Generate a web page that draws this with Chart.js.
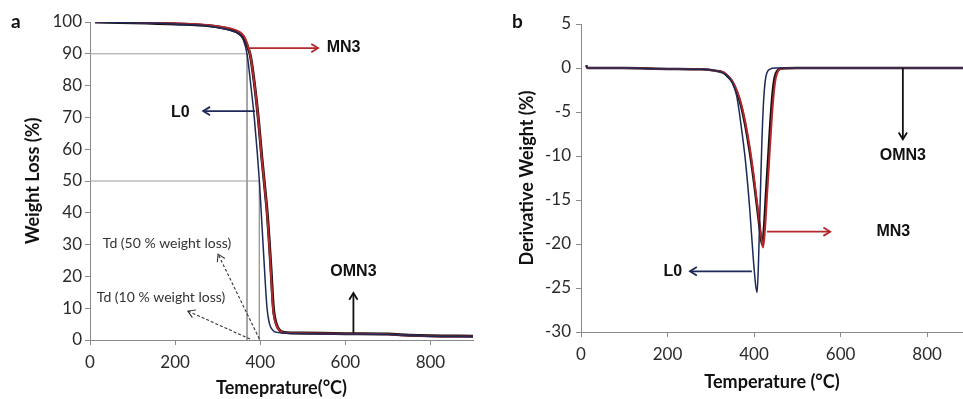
<!DOCTYPE html>
<html>
<head>
<meta charset="utf-8">
<script src="https://cdn.jsdelivr.net/npm/chart.js@4.4.1/dist/chart.umd.min.js"></script>
<style>
  html, body { margin: 0; padding: 0; background: #fff; }
  #wrap { position: relative; width: 963px; height: 399px; overflow: hidden; }
  #tgaBox { position: absolute; left: 0; top: 0; width: 480px; height: 399px; }
  #dtgBox { position: absolute; left: 480px; top: 0; width: 483px; height: 399px; }
  .panel { position: absolute; font: bold 19px Lato, sans-serif; color: #111; }
</style>
</head>
<body>
<div id="wrap">
  <div id="tgaBox"><canvas id="tgaChart"></canvas></div>
  <div id="dtgBox"><canvas id="dtgChart"></canvas></div>
  <div class="panel" style="left:11px;top:9px">a</div>
  <div class="panel" style="left:512px;top:9px">b</div>
</div>
<script>
// ---- panel a: TGA weight loss ----
const tgaTempL0 = [12, 100, 200, 280, 330, 350, 360, 369, 378, 386, 393, 398, 402, 408, 416, 422, 430, 440, 460, 500, 600, 700, 750, 800, 900];
const tgaL0     = [100, 99.8, 99.4, 98.7, 97.4, 96.2, 94.5, 90, 80, 70, 59, 50, 41, 27, 10, 5, 3, 2.4, 2.1, 2.0, 1.9, 1.8, 1.4, 1.2, 1.1];
const tgaTempMN3 = [12, 100, 200, 280, 330, 350, 362, 370, 376, 385, 395, 403, 409, 416, 424, 430, 437, 445, 455, 500, 600, 700, 750, 800, 900];
const tgaMN3     = [100, 99.9, 99.6, 99.0, 98.0, 97.0, 95.5, 93.0, 90.0, 82, 70, 58, 50, 40, 24, 10, 5, 3, 2.3, 2.1, 2.0, 1.8, 1.4, 1.2, 1.1];
const tgaTempOMN3 = [12, 100, 200, 280, 330, 350, 362, 370, 377, 386, 396, 404, 410, 417, 425, 431, 438, 446, 456, 500, 600, 700, 750, 800, 900];
const tgaOMN3     = [100, 99.8, 99.4, 98.8, 97.6, 96.5, 94.8, 92.3, 89.3, 81, 69, 57, 49, 39, 23, 10, 5, 3, 2.4, 2.2, 2.0, 1.9, 1.5, 1.3, 1.2];
const tdTemps  = [369, 398];   // Td at 10 % and 50 % weight loss
const tdLevels = [90, 50];
const tgaXTicks = [0, 200, 400, 600, 800];
const tgaYTicks = [0, 10, 20, 30, 40, 50, 60, 70, 80, 90, 100];

// ---- panel b: derivative weight ----
const dtgTempL0 = [12, 15, 100, 200, 280, 310, 330, 340, 350, 360, 370, 380, 390, 398, 404, 407, 410, 414, 418, 422, 426, 430, 436, 450, 500, 600, 700, 800, 883];
const dtgL0     = [0.3, 0, 0, -0.1, -0.15, -0.3, -0.6, -1.0, -1.7, -3.2, -6.5, -10.5, -16, -21.5, -24.8, -25.5, -22.5, -15.5, -8.5, -3.8, -1.4, -0.5, -0.15, 0, 0, 0, 0, 0, 0];
const dtgTempMN3 = [12, 15, 100, 200, 280, 310, 330, 340, 350, 360, 370, 380, 390, 400, 410, 417, 421, 425, 430, 435, 440, 445, 450, 456, 465, 500, 600, 700, 800, 883];
const dtgMN3     = [0.3, 0, 0, -0.1, -0.15, -0.3, -0.5, -0.9, -1.5, -2.5, -4.0, -6.2, -9.0, -12.5, -16.5, -19.3, -20.4, -18.5, -14.5, -10.5, -6.5, -3.2, -1.2, -0.3, -0.05, 0, 0, 0, 0, 0];
const dtgTempOMN3 = [12, 15, 100, 200, 280, 310, 330, 340, 350, 360, 370, 380, 390, 400, 410, 415, 419, 423, 428, 433, 438, 443, 448, 454, 463, 500, 600, 700, 800, 883];
const dtgOMN3     = [0.3, 0, 0, -0.1, -0.15, -0.3, -0.55, -1.0, -1.6, -2.7, -4.3, -6.6, -9.5, -13, -17, -19, -20.1, -18.2, -14, -10, -6, -2.8, -1.0, -0.3, -0.05, 0, 0, 0, 0, 0];
const dtgXTicks = [0, 200, 400, 600, 800];
const dtgYTicks = [-30, -25, -20, -15, -10, -5, 0, 5];

const NAVY = "#1d2a57";
const RED = "#b3282d";
const BLACK = "#111111";
const AXIS = "#8a8a8a";

function pts(xs, ys) {
  return xs.map((x, i) => ({ x, y: ys[i] }));
}

function drawArrow(ctx, x1, y1, x2, y2, color, width, dashed) {
  const ang = Math.atan2(y2 - y1, x2 - x1);
  const head = 8;
  ctx.save();
  ctx.strokeStyle = color;
  ctx.lineWidth = width;
  if (dashed) ctx.setLineDash([3, 2]);
  ctx.beginPath();
  ctx.moveTo(x1, y1);
  ctx.lineTo(x2, y2);
  ctx.stroke();
  ctx.setLineDash([]);
  ctx.beginPath();
  ctx.moveTo(x2 - head * Math.cos(ang - 0.55), y2 - head * Math.sin(ang - 0.55));
  ctx.lineTo(x2, y2);
  ctx.lineTo(x2 - head * Math.cos(ang + 0.55), y2 - head * Math.sin(ang + 0.55));
  ctx.stroke();
  ctx.restore();
}

// arrows and text labels, given in data units
const notes = {
  id: "notes",
  afterDatasetsDraw(chart, args, opts) {
    const { ctx, scales: { x, y } } = chart;
    (opts.arrows || []).forEach(a => {
      drawArrow(ctx, x.getPixelForValue(a.from[0]), y.getPixelForValue(a.from[1]),
        x.getPixelForValue(a.to[0]), y.getPixelForValue(a.to[1]), a.color, a.width || 1.8, a.dashed);
    });
    (opts.labels || []).forEach(l => {
      ctx.save();
      ctx.font = l.font;
      ctx.fillStyle = l.color;
      ctx.textAlign = "center";
      ctx.textBaseline = "middle";
      ctx.fillText(l.text, x.getPixelForValue(l.at[0]), y.getPixelForValue(l.at[1]));
      ctx.restore();
    });
  }
};

const tickFont = { family: "Lato", size: 17 };
const titleFont = { family: "Lato", size: 18, weight: "bold" };
const tagFont = "bold 16px 'Liberation Sans', Arial, sans-serif";
const tdFont = "14px Lato, sans-serif";

function axisX(min, max, ticks, title, titlePad, height) {
  return {
    type: "linear", min, max,
    afterBuildTicks: s => { s.ticks = ticks.map(v => ({ value: v })); },
    afterFit: s => { s.height = height; },
    grid: { drawOnChartArea: false, drawTicks: true, tickLength: 5, color: AXIS },
    border: { display: true, color: AXIS, width: 1 },
    ticks: { font: tickFont, color: "#2a2a2a", padding: 7, maxRotation: 0 },
    title: { display: true, text: title, font: titleFont, color: "#111", padding: { top: 0, bottom: titlePad } }
  };
}

function axisY(min, max, ticks, title, titlePad, width, tickPad) {
  return {
    type: "linear", min, max,
    afterBuildTicks: s => { s.ticks = ticks.map(v => ({ value: v })); },
    afterFit: s => { s.width = width; },
    grid: { drawOnChartArea: false, drawTicks: true, tickLength: 5, color: AXIS },
    border: { display: true, color: AXIS, width: 1 },
    ticks: { font: tickFont, color: "#2a2a2a", padding: tickPad },
    title: { display: true, text: title, font: titleFont, color: "#111", padding: { top: titlePad, bottom: 0 } }
  };
}

function curve(label, data, color, width, order) {
  return {
    label, data, borderColor: color, borderWidth: width, order,
    pointRadius: 0, cubicInterpolationMode: "monotone", fill: false
  };
}

new Chart(document.getElementById("tgaChart"), {
  type: "line",
  data: {
    datasets: [
      curve("L0", pts(tgaTempL0, tgaL0), NAVY, 1.5, 0),
      curve("MN3", pts(tgaTempMN3, tgaMN3), RED, 2, 1),
      curve("OMN3", pts(tgaTempOMN3, tgaOMN3), BLACK, 3, 2),
      {
        label: "Td10", data: [{ x: 0, y: tdLevels[0] }, { x: tdTemps[0], y: tdLevels[0] }, { x: tdTemps[0], y: 0 }],
        borderColor: "#9a9a9a", borderWidth: 1, pointRadius: 0, order: 3
      },
      {
        label: "Td50", data: [{ x: 0, y: tdLevels[1] }, { x: tdTemps[1], y: tdLevels[1] }, { x: tdTemps[1], y: 0 }],
        borderColor: "#9a9a9a", borderWidth: 1, pointRadius: 0, order: 3
      }
    ]
  },
  options: {
    responsive: true,
    maintainAspectRatio: false,
    animation: false,
    layout: { padding: { top: 22, right: 7, bottom: 0, left: 0 } },
    scales: {
      x: axisX(0, 900, tgaXTicks, "Temeprature(°C)", 0, 59),
      y: axisY(0, 100, tgaYTicks, "Weight Loss (%)", 22, 90, 3)
    },
    plugins: {
      legend: { display: false },
      tooltip: { enabled: false },
      notes: {
        arrows: [
          { from: [376, 91.8], to: [536, 91.8], color: RED },
          { from: [388, 72], to: [266, 72], color: NAVY },
          { from: [619, 2.2], to: [619, 14.8], color: BLACK },
          { from: [376, 0.3], to: [230, 9.1], color: "#333", width: 1.1, dashed: true },
          { from: [398, 0.3], to: [301, 27], color: "#333", width: 1.1, dashed: true }
        ],
        labels: [
          { text: "MN3", at: [596, 92], font: tagFont, color: BLACK },
          { text: "L0", at: [212, 71.5], font: tagFont, color: BLACK },
          { text: "OMN3", at: [619, 21.4], font: tagFont, color: BLACK },
          { text: "Td (50 % weight loss)", at: [181, 30.5], font: tdFont, color: "#333" },
          { text: "Td (10 % weight loss)", at: [167, 13.5], font: tdFont, color: "#333" }
        ]
      }
    }
  },
  plugins: [notes]
});

new Chart(document.getElementById("dtgChart"), {
  type: "line",
  data: {
    datasets: [
      curve("L0", pts(dtgTempL0, dtgL0), NAVY, 1.5, 0),
      curve("MN3", pts(dtgTempMN3, dtgMN3), RED, 2, 1),
      curve("OMN3", pts(dtgTempOMN3, dtgOMN3), BLACK, 2.5, 2)
    ]
  },
  options: {
    responsive: true,
    maintainAspectRatio: false,
    animation: false,
    layout: { padding: { top: 24, right: 0, bottom: 0, left: 0 } },
    scales: {
      x: axisX(0, 883, dtgXTicks, "Temperature (°C)", 6, 67),
      y: axisY(-30, 5, dtgYTicks, "Derivative Weight (%)", 36, 101, 5)
    },
    plugins: {
      legend: { display: false },
      tooltip: { enabled: false },
      notes: {
        arrows: [
          { from: [744, 0], to: [744, -8.1], color: BLACK },
          { from: [430, -18.6], to: [576, -18.6], color: RED },
          { from: [395, -23.1], to: [252, -23.1], color: NAVY }
        ],
        labels: [
          { text: "OMN3", at: [744, -9.9], font: tagFont, color: BLACK },
          { text: "MN3", at: [722, -18.6], font: tagFont, color: BLACK },
          { text: "L0", at: [212, -23.1], font: tagFont, color: BLACK }
        ]
      }
    }
  },
  plugins: [notes]
});
</script>
</body>
</html>
